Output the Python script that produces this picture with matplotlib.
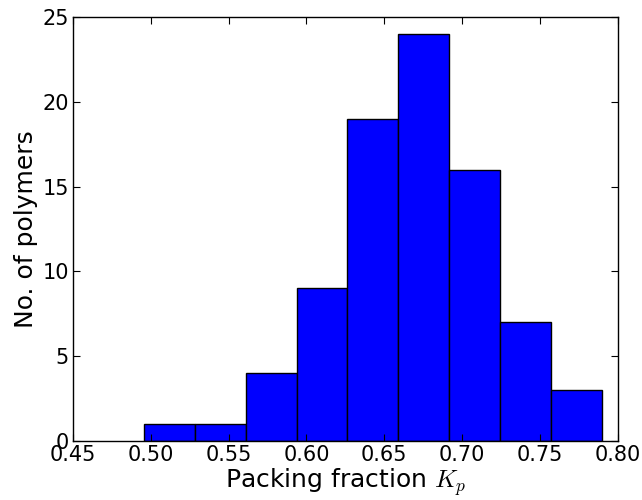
import numpy as np
import matplotlib
matplotlib.use("Agg")
import matplotlib.pyplot as plt

plt.rcParams['mathtext.fontset'] = 'cm'

# histogram data
bin_edges = np.linspace(0.4955, 0.7900, 10)
counts = [1, 1, 4, 9, 19, 24, 16, 7, 3]
xticks = [0.45, 0.50, 0.55, 0.60, 0.65, 0.70, 0.75, 0.80]
yticks = [0, 5, 10, 15, 20, 25]

fig = plt.figure(figsize=(6.42, 5.0), dpi=100)
ax = fig.add_axes([0.1137, 0.118, 0.8483, 0.848])

ax.bar(bin_edges[:-1], counts, width=np.diff(bin_edges), align='edge',
       color='#0000ff', edgecolor='black', linewidth=1.0)

ax.set_xlim(0.45, 0.80)
ax.set_ylim(0, 25)
ax.set_xticks(xticks)
ax.set_xticklabels([f"{v:.2f}" for v in xticks])
ax.set_yticks(yticks)
ax.tick_params(direction='in', top=True, right=True, labelsize=15, length=5, pad=3)
for s in ax.spines.values():
    s.set_linewidth(1.0)

ax.set_xlabel("Packing fraction $K_p$", fontsize=18, labelpad=1)
ax.set_ylabel("No. of polymers", fontsize=18, labelpad=3)

fig.savefig("out.png", dpi=100)
